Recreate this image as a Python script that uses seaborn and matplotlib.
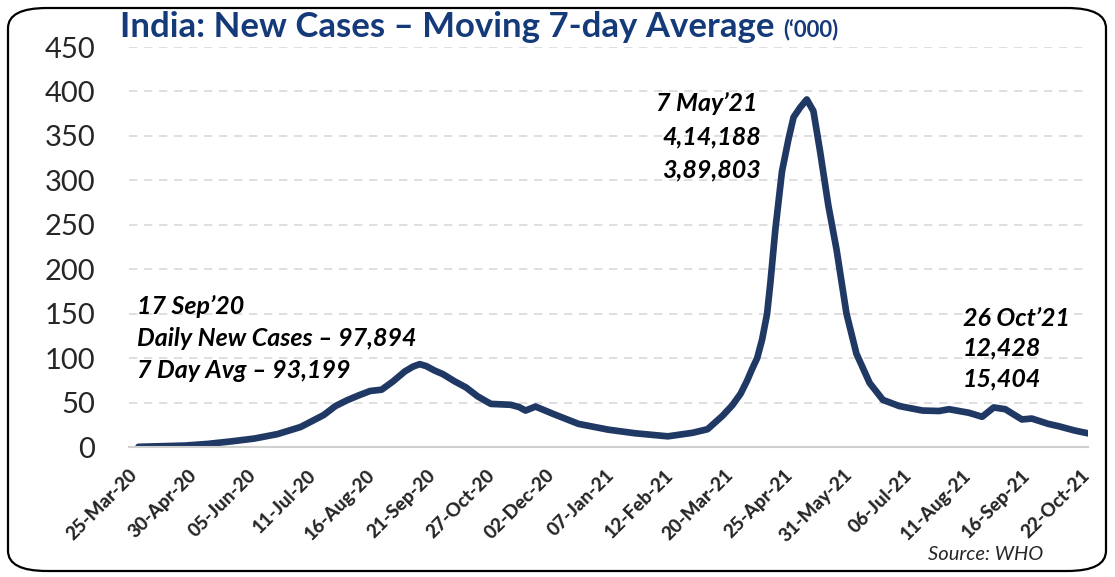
"""India 7-day moving average of new COVID cases ('000), WHO data."""

import numpy as np
import pandas as pd
import matplotlib.pyplot as plt
import matplotlib.dates as mdates
from matplotlib.patches import FancyBboxPatch
import seaborn as sns

dates = [
    "2020-03-31", "2020-04-14", "2020-04-28", "2020-05-12", "2020-05-26", "2020-06-09",
    "2020-06-23", "2020-07-07", "2020-07-21", "2020-07-28", "2020-08-04", "2020-08-11",
    "2020-08-18", "2020-08-25", "2020-09-01", "2020-09-08", "2020-09-13", "2020-09-17",
    "2020-09-21", "2020-09-26", "2020-10-01", "2020-10-08", "2020-10-15", "2020-10-22",
    "2020-10-30", "2020-11-11", "2020-11-16", "2020-11-20", "2020-11-26", "2020-12-07",
    "2020-12-22", "2021-01-09", "2021-01-25", "2021-02-14", "2021-03-01", "2021-03-10",
    "2021-03-19", "2021-03-25", "2021-03-30", "2021-04-03", "2021-04-06", "2021-04-09",
    "2021-04-12", "2021-04-15", "2021-04-17", "2021-04-20", "2021-04-24", "2021-04-28",
    "2021-05-01", "2021-05-05", "2021-05-09", "2021-05-13", "2021-05-17", "2021-05-22",
    "2021-05-27", "2021-06-02", "2021-06-08", "2021-06-16", "2021-06-24", "2021-07-04",
    "2021-07-18", "2021-07-28", "2021-08-03", "2021-08-15", "2021-08-23", "2021-08-30",
    "2021-09-06", "2021-09-16", "2021-09-22", "2021-10-02", "2021-10-08", "2021-10-18",
    "2021-10-26",
]
avg_cases = [
    0.2, 0.9, 1.6, 3.5, 6.3, 9.5,
    14.5, 22.5, 36.0, 46.0, 52.5, 58.0,
    63.0, 64.5, 74.0, 85.0, 90.5, 93.2,
    91.0, 86.0, 82.0, 74.0, 67.0, 57.0,
    48.5, 47.5, 45.0, 41.0, 45.5, 37.0,
    26.0, 19.5, 15.5, 12.0, 16.0, 20.0,
    35.0, 47.0, 60.0, 75.0, 88.0, 100.0,
    121.0, 150.0, 185.0, 245.0, 310.0, 347.0,
    371.0, 382.0, 391.0, 378.0, 333.0, 272.0,
    222.0, 150.0, 105.0, 72.0, 53.0, 46.0,
    41.0, 40.5, 42.5, 38.5, 34.0, 44.5,
    42.5, 31.0, 32.0, 26.0, 23.5, 18.5,
    15.4,
]
y_ticks = [0, 50, 100, 150, 200, 250, 300, 350, 400, 450]

df = pd.DataFrame({"date": pd.to_datetime(dates), "cases": avg_cases})

sns.set_style("white")
plt.rcParams["font.family"] = ["Lato", "DejaVu Sans"]

fig = plt.figure(figsize=(11.15, 5.77), dpi=100)
ax = fig.add_axes([0.1153, 0.2253, 0.8605, 0.6932])

sns.lineplot(data=df, x="date", y="cases", ax=ax, color="#1F3864", linewidth=4.8)
ax.lines[0].set_solid_joinstyle("round")
ax.lines[0].set_solid_capstyle("round")

ax.set_xlim(pd.Timestamp("2020-03-25"), pd.Timestamp("2021-10-26"))
ax.set_ylim(0, 450)
ax.set_yticks(y_ticks)
ax.tick_params(axis="y", labelsize=21, length=0, pad=24)

xt = pd.date_range("2020-03-25", "2021-10-26", freq="36D")
ax.set_xticks(xt)
ax.xaxis.set_major_formatter(mdates.DateFormatter("%d-%b-%y"))
ax.tick_params(axis="x", labelsize=13.5, length=7, color="#D0D0D0", width=1.5, pad=7)
for lab in ax.get_xticklabels():
    lab.set_rotation(45)
    lab.set_ha("right")
    lab.set_rotation_mode("anchor")
    lab.set_fontweight("black")

ax.grid(True, axis="y", linestyle=(0, (5, 4)), color="#D9D9D9", linewidth=1.2)
ax.set_axisbelow(True)
for s in ["top", "right", "left"]:
    ax.spines[s].set_visible(False)
ax.spines["bottom"].set_color("#D0D0D0")
ax.spines["bottom"].set_linewidth(1.5)
ax.set_xlabel("")
ax.set_ylabel("")

# 标注
note_kw = dict(fontsize=18, fontweight="bold", fontstyle="italic", color="black",
               va="center", transform=fig.transFigure)
W, H = 1115, 577
for txt, x, y in [("17 Sep\u201920", 137, 306), ("Daily New Cases \u2013 97,894", 137, 338),
                  ("7 Day Avg \u2013 93,199", 137, 370),
                  ("7 May\u201921", 656, 103), ("4,14,188", 662, 137), ("3,89,803", 662, 170),
                  ("26 Oct\u201921", 963, 318), ("12,428", 963, 348), ("15,404", 963, 379)]:
    fig.text(x / W, 1 - y / H, txt, **note_kw)

title = fig.text(120 / W, 1 - 27 / H, "India: New Cases \u2013 Moving 7-day Average",
                 fontsize=25, fontweight="bold", color="#153A7A", va="center")
ax.annotate("(\u2018000)", xy=(1, 0.5), xycoords=title, xytext=(6, -2),
            textcoords="offset points", fontsize=16, fontweight="bold",
            color="#153A7A", va="center", ha="left", annotation_clip=False)
fig.text(1043 / W, 1 - 555 / H, "Source: WHO", fontsize=14.5, fontstyle="italic",
         ha="right", va="center")

border = FancyBboxPatch((8 / W, 6 / H), 1098 / W, 563 / H, transform=fig.transFigure,
                        boxstyle="round,pad=0,rounding_size=0.035", fill=False,
                        edgecolor="black", linewidth=1.6)
fig.patches.append(border)

fig.savefig("out.png", dpi=100)
plt.close(fig)
